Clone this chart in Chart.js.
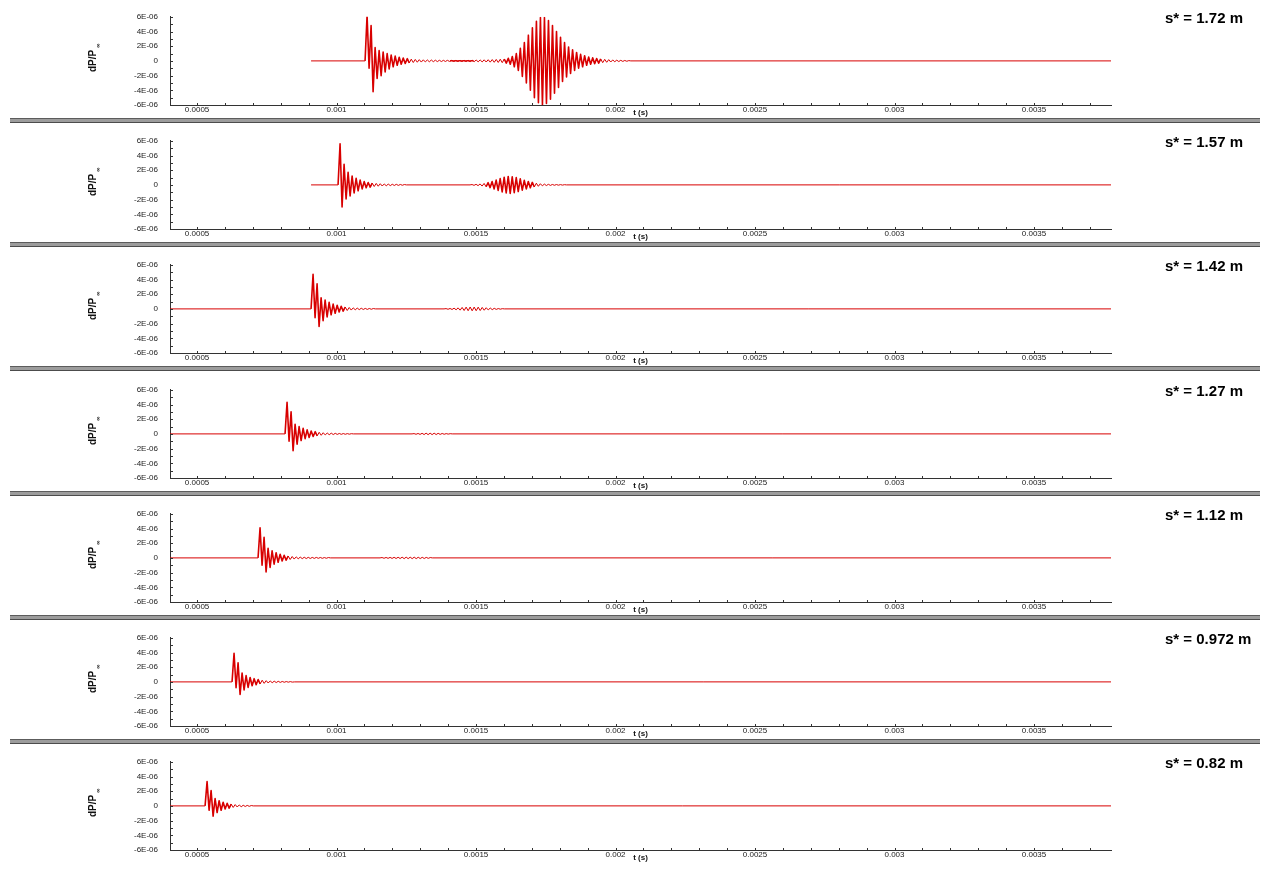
<!DOCTYPE html>
<html>
<head>
<meta charset="utf-8">
<title>dP/P vs t</title>
<script src="https://cdn.jsdelivr.net/npm/chart.js@4.4.1/dist/chart.umd.min.js"></script>
<style>
  html, body { margin: 0; padding: 0; background: #ffffff; }
  #stack { position: relative; width: 1264px; height: 871px; overflow: hidden; }
  .panel { position: absolute; left: 0; width: 1264px; height: 124px; }
  .divider {
    position: absolute; left: 10px; width: 1250px; height: 3px;
    background: #9c9c9c; border-top: 1px solid #5c5c5c; border-bottom: 1px solid #4c4c4c;
  }
</style>
</head>
<body>
<div id="stack"></div>
<script>
// ---- labels -------------------------------------------------------------
const spacingLabels = ['s* = 1.72 m', 's* = 1.57 m', 's* = 1.42 m', 's* = 1.27 m',
                       's* = 1.12 m', 's* = 0.972 m', 's* = 0.82 m'];

const timeTickValues = [0.0005, 0.001, 0.0015, 0.002, 0.0025, 0.003, 0.0035];
const timeTickLabels = ['0.0005', '0.001', '0.0015', '0.002', '0.0025', '0.003', '0.0035'];
const timeMin = 0.000403;
const timeMax = 0.003776;

const pressureTickValues = [-6e-6, -4e-6, -2e-6, 0, 2e-6, 4e-6, 6e-6];
const pressureTickLabels = ['-6E-06', '-4E-06', '-2E-06', '0', '2E-06', '4E-06', '6E-06'];

// ---- recorded signals ----------------------------------------------------
// successive extremes, spaced sampleStep seconds apart, in units of 1E-06
const sampleStep = 7.2e-6;
const traceEnd = 0.00378;
const traceStart  = [0.0009086, 0.0009086, 0.0004, 0.0004, 0.0004, 0.0004, 0.0004];
const burstStart  = [0.0011022, 0.0010054, 0.0009086, 0.0008154, 0.0007186, 0.0006254, 0.0005287];
const packetStart = [0.0014068, 0.0014785, 0.0013853, 0.0012706, 0.0011559, null, null];

const burst172 = [0, 6.2, -1.0, 4.8, -4.2, 1.8, -2.4, 1.4, -2.0, 1.2, -1.5, 1.0, -1.1, 0.8, -0.8,
  0.65, -0.6, 0.5, -0.45, 0.38, -0.35, 0.3, -0.28, 0.24, -0.22, 0.2, -0.18, 0.17, -0.16, 0.15,
  -0.14, 0.13, -0.12, 0.12, -0.11, 0.1, -0.1, 0.09, -0.09, 0.08, -0.08, 0.08, -0.07, 0.07,
  -0.06, 0.06, -0.06, 0.05, -0.05, 0.05, -0.04, 0.04, -0.04, 0.03, 0];
const packet172 = [0, 0.05, -0.05, 0.06, -0.06, 0.07, -0.07, 0.08, -0.08, 0.09, -0.1, 0.1, -0.11,
  0.12, -0.12, 0.13, -0.14, 0.15, -0.15, 0.16, -0.17, 0.18, -0.19, 0.2, -0.21, 0.23, -0.24, 0.26,
  -0.3, 0.35, -0.45, 0.6, -0.8, 1.0, -1.3, 1.7, -2.1, 2.5, -3.0, 3.5, -4.0, 4.5, -5.0, 5.4, -5.7,
  5.9, -6.0, 5.9, -5.8, 5.5, -5.2, 4.8, -4.4, 4.0, -3.6, 3.2, -2.8, 2.5, -2.2, 1.9, -1.7, 1.5,
  -1.3, 1.15, -1.0, 0.9, -0.8, 0.7, -0.6, 0.52, -0.46, 0.41, -0.37, 0.33, -0.3, 0.27, -0.24,
  0.21, -0.19, 0.17, -0.15, 0.13, -0.11, 0.1, -0.09, 0.08, -0.07, 0.06, -0.05, 0.04, 0];

const burst157 = [0, 5.6, -3.0, 2.8, -1.9, 1.7, -1.5, 1.2, -1.1, 0.9, -0.8, 0.65, -0.55, 0.45,
  -0.4, 0.33, -0.3, 0.25, -0.22, 0.2, -0.18, 0.16, -0.15, 0.13, -0.12, 0.11, -0.1, 0.09, -0.08,
  0.08, -0.07, 0.06, -0.05, 0.05, 0];
const packet157 = [0, 0.05, -0.06, 0.08, -0.1, 0.13, -0.16, 0.2, -0.25, 0.3, -0.37, 0.45, -0.55,
  0.65, -0.75, 0.85, -0.95, 1.05, -1.1, 1.15, -1.15, 1.1, -1.05, 1.0, -0.9, 0.82, -0.72, 0.62,
  -0.55, 0.47, -0.4, 0.34, -0.28, 0.23, -0.19, 0.16, -0.13, 0.11, -0.09, 0.08, -0.07, 0.06,
  -0.05, 0.05, -0.04, 0.04, -0.03, 0.03, 0];

const burst142 = [0, 4.7, -1.2, 3.4, -2.4, 1.5, -1.6, 1.2, -1.1, 0.9, -0.8, 0.65, -0.6, 0.5,
  -0.42, 0.36, -0.3, 0.26, -0.22, 0.19, -0.16, 0.14, -0.12, 0.11, -0.1, 0.09, -0.08, 0.07,
  -0.07, 0.06, -0.05, 0.05, 0];
const packet142 = [0, 0.04, -0.05, 0.06, -0.08, 0.1, -0.12, 0.14, -0.17, 0.2, -0.22, 0.24, -0.25,
  0.26, -0.26, 0.25, -0.25, 0.24, -0.22, 0.2, -0.18, 0.16, -0.14, 0.12, -0.1, 0.08, -0.07, 0.05,
  -0.04, 0.03, 0];

const burst127 = [0, 4.3, -1.0, 3.0, -2.3, 1.3, -1.4, 1.0, -0.9, 0.75, -0.65, 0.55, -0.48, 0.4,
  -0.35, 0.3, -0.26, 0.22, -0.19, 0.16, -0.14, 0.12, -0.11, 0.1, -0.09, 0.08, -0.07, 0.06, -0.06,
  0.05, -0.05, 0.04, -0.04, 0.03, 0];
const packet127 = [0, 0.04, -0.05, 0.06, -0.07, 0.08, -0.09, 0.1, -0.1, 0.1, -0.1, 0.1, -0.09,
  0.08, -0.07, 0.06, -0.05, 0.04, -0.03, 0.03, 0];

const burst112 = [0, 4.1, -1.0, 2.8, -1.9, 1.3, -1.3, 0.95, -0.85, 0.7, -0.6, 0.5, -0.42, 0.36,
  -0.3, 0.26, -0.22, 0.19, -0.16, 0.14, -0.12, 0.11, -0.1, 0.09, -0.09, 0.08, -0.08, 0.07, -0.07,
  0.07, -0.06, 0.06, -0.06, 0.05, -0.05, 0.05, 0];
const packet112 = [0, 0.05, -0.05, 0.06, -0.06, 0.07, -0.07, 0.08, -0.08, 0.09, -0.09, 0.1, -0.1,
  0.1, -0.1, 0.1, -0.1, 0.1, -0.1, 0.09, -0.09, 0.08, -0.08, 0.07, -0.06, 0.05, 0];

const burst0972 = [0, 3.9, -0.8, 2.6, -1.7, 1.2, -1.1, 0.85, -0.75, 0.6, -0.52, 0.44, -0.38, 0.32,
  -0.27, 0.23, -0.2, 0.17, -0.15, 0.13, -0.11, 0.1, -0.09, 0.08, -0.07, 0.06, -0.05, 0.05, -0.04,
  0.04, -0.03, 0];

const burst082 = [0, 3.3, -0.6, 2.1, -1.4, 1.0, -0.9, 0.7, -0.6, 0.5, -0.42, 0.35, -0.3, 0.25,
  -0.21, 0.18, -0.15, 0.13, -0.11, 0.09, -0.08, 0.07, -0.06, 0.05, 0];

const bursts  = [burst172, burst157, burst142, burst127, burst112, burst0972, burst082];
const packets = [packet172, packet157, packet142, packet127, packet112, null, null];

// ---- build the (t, dP/P) points of one trace ------------------------------
function buildTrace(k) {
  const pts = [{ x: traceStart[k], y: 0 }];
  bursts[k].forEach((v, i) => pts.push({ x: burstStart[k] + i * sampleStep, y: v * 1e-6 }));
  if (packets[k]) {
    packets[k].forEach((v, i) => pts.push({ x: packetStart[k] + i * sampleStep, y: v * 1e-6 }));
  }
  pts.push({ x: traceEnd, y: 0 });
  return pts;
}

// minor tick positions: every 0.0001 s and every 1E-06
const timeMinor = [];
for (let k = 5; k <= 37; k++) timeMinor.push(k / 10000);
const pressureMinor = [];
for (let k = -6; k <= 6; k++) pressureMinor.push(k * 1e-6);

function labelFor(values, labels, v) {
  const i = values.findIndex(t => Math.abs(t - v) < 1e-10);
  return i >= 0 ? labels[i] : '';
}

Chart.defaults.font.family = "'Liberation Sans', Arial, Helvetica, sans-serif";
Chart.defaults.color = '#222';

// axis tick marks, rotated axis title and distance label
const panelDecor = {
  id: 'panelDecor',
  afterDraw(chart, args, opts) {
    const { ctx, chartArea: a, scales: { x, y } } = chart;
    ctx.save();
    ctx.strokeStyle = '#333';
    ctx.lineWidth = 1;
    ctx.beginPath();
    x.ticks.forEach(t => {
      const px = Math.round(x.getPixelForValue(t.value)) + 0.5;
      ctx.moveTo(px, a.bottom - 2);
      ctx.lineTo(px, a.bottom);
    });
    y.ticks.forEach(t => {
      const py = Math.round(y.getPixelForValue(t.value)) + 0.5;
      ctx.moveTo(a.left, py);
      ctx.lineTo(a.left + 3, py);
    });
    ctx.stroke();

    // y title: dP/P with subscript infinity
    ctx.fillStyle = '#111';
    ctx.translate(93, (a.top + a.bottom) / 2);
    ctx.rotate(-Math.PI / 2);
    ctx.font = "bold 10px 'Liberation Sans', Arial, sans-serif";
    ctx.textAlign = 'center';
    ctx.textBaseline = 'middle';
    const w = ctx.measureText('dP/P').width;
    ctx.fillText('dP/P', 0, 0);
    ctx.font = "bold 6px 'Liberation Sans', Arial, sans-serif";
    ctx.textAlign = 'left';
    ctx.fillText('\u221E', w / 2 + 2, 5);
    ctx.restore();

    ctx.save();
    ctx.fillStyle = '#000';
    ctx.font = "bold 15px 'Liberation Sans', Arial, sans-serif";
    ctx.textAlign = 'left';
    ctx.textBaseline = 'alphabetic';
    ctx.fillText(opts.label, 1165, 23);
    ctx.restore();
  }
};

// strong oscillations are drawn a little heavier than the quiet baseline
const oscillating = ctx =>
  Math.max(Math.abs(ctx.p0.parsed.y), Math.abs(ctx.p1.parsed.y)) >= 0.3e-6 ? 1.6 : 1;

const stack = document.getElementById('stack');
for (let k = 0; k < spacingLabels.length; k++) {
  const top = Math.round(k * 124.2);
  const holder = document.createElement('div');
  holder.className = 'panel';
  holder.style.top = top + 'px';
  const canvas = document.createElement('canvas');
  canvas.width = 1264;
  canvas.height = 124;
  holder.appendChild(canvas);
  stack.appendChild(holder);

  if (k < spacingLabels.length - 1) {
    const bar = document.createElement('div');
    bar.className = 'divider';
    bar.style.top = (top + 118) + 'px';
    stack.appendChild(bar);
  }

  new Chart(canvas, {
    type: 'line',
    data: {
      datasets: [{
        data: buildTrace(k),
        borderColor: '#d80000',
        borderWidth: 1,
        borderJoinStyle: 'round',
        pointRadius: 0,
        tension: 0,
        fill: false,
        segment: { borderWidth: oscillating }
      }]
    },
    options: {
      responsive: false,
      animation: false,
      devicePixelRatio: 1,
      events: [],
      layout: { padding: { top: 14, right: 153, bottom: 0, left: 0 } },
      plugins: {
        legend: { display: false },
        tooltip: { enabled: false },
        panelDecor: { label: spacingLabels[k] }
      },
      scales: {
        x: {
          type: 'linear',
          min: timeMin,
          max: timeMax,
          afterBuildTicks: s => { s.ticks = timeMinor.map(v => ({ value: v })); },
          afterFit: s => { s.height = 19; },
          ticks: {
            autoSkip: false,
            maxRotation: 0,
            padding: 0,
            font: { size: 8 },
            color: '#222',
            callback: v => labelFor(timeTickValues, timeTickLabels, v)
          },
          grid: { display: false, drawTicks: false },
          border: { display: true, color: '#333', width: 1 },
          title: {
            display: true,
            text: 't (s)',
            color: '#111',
            font: { size: 8, weight: 'bold' },
            padding: { top: 0, bottom: 6 }
          }
        },
        y: {
          type: 'linear',
          min: -6e-6,
          max: 6e-6,
          afterBuildTicks: s => { s.ticks = pressureMinor.map(v => ({ value: v })); },
          afterFit: s => { s.width = 170; },
          ticks: {
            autoSkip: false,
            padding: 12,
            font: { size: 8 },
            color: '#222',
            callback: v => labelFor(pressureTickValues, pressureTickLabels, v)
          },
          grid: { display: false, drawTicks: false },
          border: { display: true, color: '#333', width: 1 }
        }
      }
    },
    plugins: [panelDecor]
  });
}
</script>
</body>
</html>
